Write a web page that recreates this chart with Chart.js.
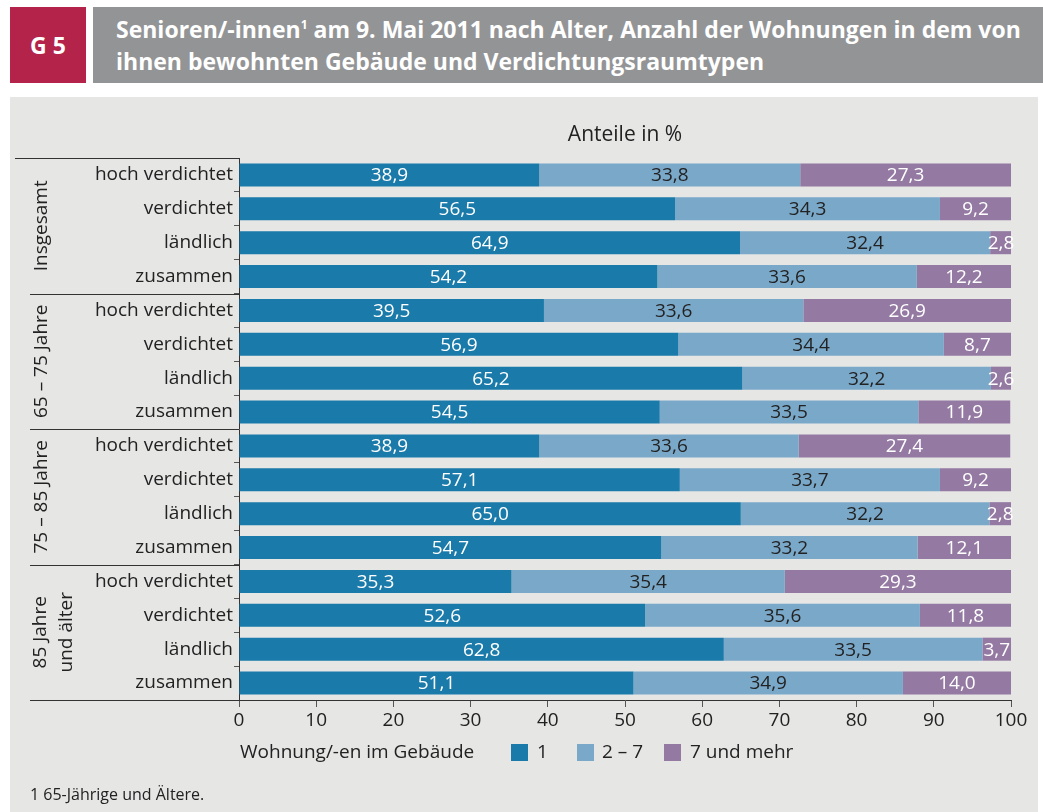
<!DOCTYPE html>
<html>
<head>
  <meta charset="UTF-8">
  <title>G 5 Senioren nach Verdichtungsraumtypen</title>
  <script src="https://cdn.jsdelivr.net/npm/chart.js"></script>
  <style>
    body {
      margin: 0;
      width: 1043px;
      height: 812px;
      position: relative;
      overflow: hidden;
      background: #fff;
      font-family: 'Open Sans', sans-serif;
      color: #222;
    }
    #badge {
      position: absolute;
      left: 10px; top: 7px;
      width: 76px; height: 76px;
      background: #b42349;
      color: #fff;
      font-weight: bold;
      font-size: 23px;
      display: flex;
      align-items: center;
      justify-content: center;
    }
    #title {
      position: absolute;
      left: 93px; top: 7px;
      width: 950px; height: 76px;
      background: #939496;
      color: #fff;
      font-weight: bold;
      font-size: 23px;
      line-height: 32px;
      box-sizing: border-box;
      padding: 6px 0 0 23px;
    }
    #title sup { font-size: 12px; vertical-align: 9px; line-height: 0; }
    #panel {
      position: absolute;
      left: 10px; top: 97px;
      width: 1028px; height: 715px;
      background: #e6e6e5;
    }
    #chart { position: absolute; left: 0; top: 0; }
    .legend {
      position: absolute;
      top: 641px;
      font-size: 19px;
      line-height: 26px;
      color: #222;
    }
    .swatch {
      position: absolute;
      top: 647px;
      width: 17px; height: 17px;
    }
    #note {
      position: absolute;
      left: 20px; top: 686px;
      font-size: 16px;
      color: #222;
    }
  </style>
</head>
<body>
<div id="badge">G 5</div>
<div id="title">Senioren/-innen<sup>1</sup> am 9. Mai 2011 nach Alter, Anzahl der Wohnungen in dem von<br>ihnen bewohnten Gebäude und Verdichtungsraumtypen</div>
<div id="panel">
  <canvas id="chart" width="1028" height="715"></canvas>
  <div class="legend" style="left:230px">Wohnung/-en im Gebäude</div>
  <div class="swatch" style="left:501px;background:#1a7aa9"></div>
  <div class="legend" style="left:527px">1</div>
  <div class="swatch" style="left:567px;background:#7aa8c9"></div>
  <div class="legend" style="left:592px">2 – 7</div>
  <div class="swatch" style="left:654px;background:#9479a2"></div>
  <div class="legend" style="left:680px">7 und mehr</div>
  <div id="note">1 65-Jährige und Ältere.</div>
</div>

<script>
  // Row labels (4 settlement types per age group)
  const types = ['hoch verdichtet', 'verdichtet', 'ländlich', 'zusammen'];
  const groups = [['Insgesamt'], ['65 – 75 Jahre'], ['75 – 85 Jahre'], ['85 Jahre', 'und älter']];
  const categories = groups.flatMap(() => types);

  // Shares in % by number of dwellings in the building
  const one        = [38.9, 56.5, 64.9, 54.2, 39.5, 56.9, 65.2, 54.5, 38.9, 57.1, 65.0, 54.7, 35.3, 52.6, 62.8, 51.1];
  const twoToSeven = [33.8, 34.3, 32.4, 33.6, 33.6, 34.4, 32.2, 33.5, 33.6, 33.7, 32.2, 33.2, 35.4, 35.6, 33.5, 34.9];
  const sevenPlus  = [27.3, 9.2, 2.8, 12.2, 26.9, 8.7, 2.6, 11.9, 27.4, 9.2, 2.8, 12.1, 29.3, 11.8, 3.7, 14.0];

  const xTicks = [0, 10, 20, 30, 40, 50, 60, 70, 80, 90, 100];

  Chart.defaults.font.family = "'Open Sans', sans-serif";
  Chart.defaults.font.size = 19;
  Chart.defaults.color = '#222';

  // Values inside the bars, group labels and separator lines
  const decorations = {
    id: 'decorations',
    afterDatasetsDraw(chart) {
      const ctx = chart.ctx;
      ctx.save();
      ctx.font = "19px 'Open Sans', sans-serif";
      ctx.textAlign = 'center';
      ctx.textBaseline = 'middle';
      chart.data.datasets.forEach((ds, i) => {
        const meta = chart.getDatasetMeta(i);
        meta.data.forEach((bar, j) => {
          ctx.fillStyle = ds.labelColor;
          ctx.fillText(ds.data[j].toFixed(1).replace('.', ','), (bar.x + bar.base) / 2, bar.y + 1);
        });
      });
      ctx.restore();
    },
    afterDraw(chart) {
      const ctx = chart.ctx;
      const y = chart.scales.y;
      const area = chart.chartArea;
      const edge = i => (y.getPixelForValue(i - 1) + y.getPixelForValue(i)) / 2;
      ctx.save();
      ctx.strokeStyle = '#333';
      ctx.lineWidth = 1;
      ctx.beginPath();
      ctx.moveTo(5, area.top + 0.5);
      ctx.lineTo(area.left, area.top + 0.5);
      [4, 8, 12].forEach(i => {
        const py = Math.round(edge(i)) + 0.5;
        ctx.moveTo(20, py);
        ctx.lineTo(area.left, py);
      });
      ctx.moveTo(20, area.bottom + 0.5);
      ctx.lineTo(area.left, area.bottom + 0.5);
      ctx.stroke();

      ctx.font = "19px 'Open Sans', sans-serif";
      ctx.fillStyle = '#222';
      ctx.textAlign = 'center';
      ctx.textBaseline = 'middle';
      groups.forEach((lines, g) => {
        const cy = (y.getPixelForValue(g * 4 + 1) + y.getPixelForValue(g * 4 + 2)) / 2;
        ctx.save();
        ctx.translate(lines.length > 1 ? 31 : 32, cy);
        ctx.rotate(-Math.PI / 2);
        lines.forEach((t, k) => ctx.fillText(t, 0, k * 26));
        ctx.restore();
      });

      ctx.font = "21px 'Open Sans', sans-serif";
      ctx.fillText('Anteile in %', (area.left + area.right) / 2, 38);
      ctx.restore();
    }
  };

  new Chart(document.getElementById('chart'), {
    type: 'bar',
    data: {
      labels: categories,
      datasets: [
        { label: '1', data: one, backgroundColor: '#1a7aa9', labelColor: '#fff' },
        { label: '2 – 7', data: twoToSeven, backgroundColor: '#7aa8c9', labelColor: '#222' },
        { label: '7 und mehr', data: sevenPlus, backgroundColor: '#9479a2', labelColor: '#fff' }
      ]
    },
    options: {
      indexAxis: 'y',
      responsive: false,
      animation: false,
      categoryPercentage: 1,
      barPercentage: 0.68,
      layout: { padding: { left: 0, right: 27, top: 61, bottom: 72 } },
      plugins: {
        legend: { display: false },
        tooltip: { enabled: false }
      },
      scales: {
        x: {
          stacked: true,
          min: 0,
          max: 100,
          afterFit(scale) { scale.height = 40; },
          afterBuildTicks(scale) { scale.ticks = xTicks.map(v => ({ value: v })); },
          grid: { drawOnChartArea: false, drawTicks: true, tickLength: 7, color: '#555' },
          border: { display: true, color: '#333' },
          ticks: { padding: 2, color: '#222', font: { size: 19 } }
        },
        y: {
          stacked: true,
          afterFit(scale) { scale.width = 229; },
          grid: { offset: true, drawOnChartArea: false, drawTicks: true, tickLength: 5, color: '#555' },
          border: { display: true, color: '#333' },
          ticks: { padding: 1, color: '#222', font: { size: 19 } }
        }
      }
    },
    plugins: [decorations]
  });
</script>
</body>
</html>
